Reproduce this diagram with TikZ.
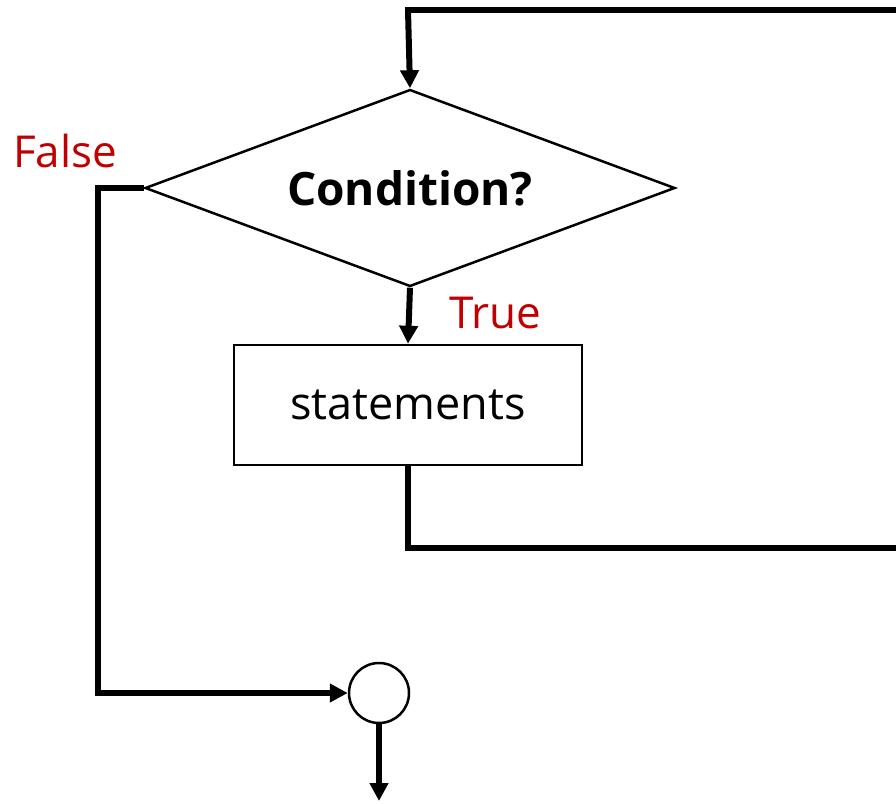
\documentclass[tikz,border=0pt]{standalone}
\usepackage{fontspec}
\setmainfont{Open Sans}
\usetikzlibrary{shapes.geometric,arrows.meta}
\definecolor{lblred}{HTML}{C00000}
\begin{document}
\begin{tikzpicture}[x=1pt,y=-1pt,
  thin line/.style={line width=2.5pt},
  flow/.style={line width=6pt},
  flowarrow/.style={flow,-{Triangle[width=18pt,length=18pt]}},
  lbl/.style={text=lblred,font=\fontsize{44}{44}\selectfont,inner sep=0pt}]
\useasboundingbox (0,0) rectangle (896,803);
\node[diamond,draw,thin line,inner sep=0pt,
  shape aspect=2.69,minimum height=197pt,minimum width=530pt] (cond) at (410,188)
  {\fontsize{46}{46}\selectfont\bfseries Condition?};
\node[draw,thin line,minimum width=348pt,minimum height=120pt,inner sep=0pt] (stmt) at (408,405)
  {\raisebox{-3pt}{\fontsize{45}{45}\selectfont statements}};
\node[circle,draw,thin line,minimum size=60pt,inner sep=0pt] (join) at (379,693) {};
\node[lbl,anchor=base west] (false) at (13,167) {False};
\node[lbl,anchor=base west] (true) at (449,328) {True};
\coordinate (fl1) at (98,188);
\coordinate (fl2) at (98,693);
\coordinate (lp1) at (408,548);
\coordinate (lp2) at (905,548);
\coordinate (lp3) at (905,10);
\coordinate (lp4) at (408,10);
\coordinate (endpt) at (379,801);
\draw[flowarrow] (cond.south) -- (stmt.north);
\draw[flow,line join=miter] (stmt.south) -- (lp1) -- (lp2) -- (lp3) -- (lp4) -- ([yshift=-2pt]lp4);
\draw[flowarrow] (lp4) -- (cond.north);
\draw[flowarrow,line join=miter] (cond.west) -- (fl1) -- (fl2) -- (join.west);
\draw[flowarrow] (join.south) -- (endpt);
\end{tikzpicture}
\end{document}
